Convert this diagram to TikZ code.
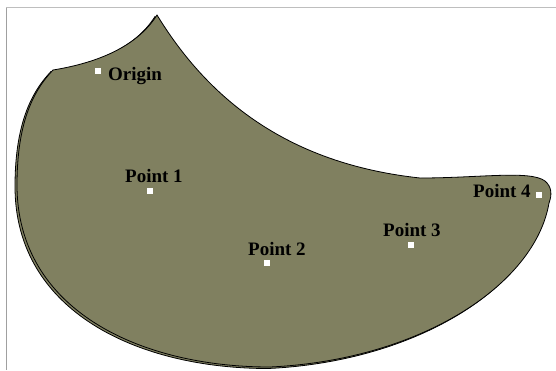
\documentclass[tikz,border=0pt]{standalone}
\usepackage{fontspec}
\setmainfont{Liberation Serif}
\definecolor{olivefill}{RGB}{128,128,96}
\definecolor{frametop}{RGB}{190,190,190}
\definecolor{frameleft}{RGB}{160,160,160}
\tikzset{
  pointlabel/.style={anchor=base west, inner sep=0pt, font=\fontsize{19}{19}\selectfont\bfseries},
  pointmark/.style={fill=white, draw=none, minimum size=6pt, inner sep=0pt},
}
\begin{document}
\begin{tikzpicture}[x=1pt, y=-1pt]
  \useasboundingbox (0,0) rectangle (556,370);
  % frame edges
  \draw[frametop, line width=1.5pt] (6,7.5) -- (556,7.5);
  \draw[frameleft, line width=1pt] (6,7.5) -- (6,370);
  % region outline
  \def\regionpath{(157,15) .. controls (215,110) and (300,165) .. (420,178)
    .. controls (480,178) and (530,170) .. (545,181)
    .. controls (552,187) and (552,195) .. (549,203)
    .. controls (535,285) and (420,360) .. (270,367)
    .. controls (140,367) and (17,310) .. (17,185)
    .. controls (17,125) and (32,92) .. (53,70)
    .. controls (90,64) and (135,50) .. (157,15) -- cycle}
  \begin{scope}[shift={(-2,1.5)}]
    \fill[olivefill, draw=black, line width=0.8pt] \regionpath;
  \end{scope}
  \fill[olivefill, draw=black, line width=0.8pt, line join=miter] \regionpath;
  % points
  \node[pointmark] (m0) at (98,71) {};
  \node[pointmark] (m1) at (150,191) {};
  \node[pointmark] (m2) at (267,263) {};
  \node[pointmark] (m3) at (411,245) {};
  \node[pointmark] (m4) at (539,195) {};
  % labels
  \node[pointlabel] (l0) at (108,80) {Origin};
  \node[pointlabel] (l1) at (125,182) {Point 1};
  \node[pointlabel] (l2) at (248,255) {Point 2};
  \node[pointlabel] (l3) at (383,236.5) {Point 3};
  \node[pointlabel] (l4) at (473,197.5) {Point 4};
\end{tikzpicture}
\end{document}
